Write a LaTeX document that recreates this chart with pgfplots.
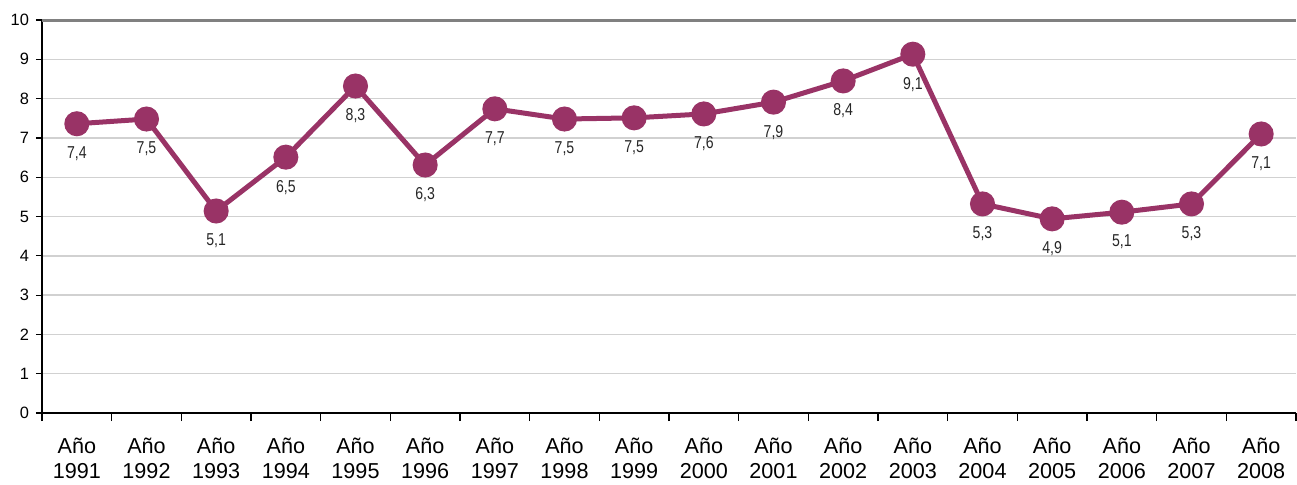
\documentclass[border=0pt]{standalone}
\usepackage{pgfplots}
\pgfplotsset{compat=1.18}
\usepackage{fontspec}
\setmainfont{Liberation Sans}
\newfontfamily\narrow[FakeStretch=0.82]{Liberation Sans}
\definecolor{linec}{HTML}{993366}
\begin{document}
\begin{tikzpicture}
\begin{axis}[
  scale only axis, width=627pt, height=196.5pt,
  xmin=-0.5, xmax=17.5, ymin=0, ymax=10,
  axis x line*=bottom, axis y line*=left,
  axis line style={-, black, line width=0.9pt},
  ytick={0,...,10},
  xtick={0,...,17},
  xticklabels={Año\\1991,Año\\1992,Año\\1993,Año\\1994,Año\\1995,Año\\1996,Año\\1997,Año\\1998,Año\\1999,Año\\2000,Año\\2001,Año\\2002,Año\\2003,Año\\2004,Año\\2005,Año\\2006,Año\\2007,Año\\2008},
  minor xtick={-0.5,0.5,...,17.5},
  every major x tick/.append style={draw=none},
  tick align=outside, major tick length=3pt, minor tick length=4pt,
  tick style={black, line width=0.6pt},
  xticklabel style={align=center, font=\fontsize{10.8}{12.5}\selectfont, yshift=-6pt},
  yticklabel style={font=\fontsize{8.2}{9}\selectfont},
  /pgf/number format/assume math mode=true,
  ymajorgrids, grid style={draw=black!18, line width=0.7pt},
  clip=false,
  point meta=explicit symbolic,
  nodes near coords,
  every node near coord/.style={anchor=center, yshift=-15pt, font=\narrow\fontsize{8.6}{9}\selectfont, text=black!85},
]
\draw[draw=black!50, line width=1.5pt] (rel axis cs:0,1) -- (rel axis cs:1,1);
\addplot[color=linec, line width=2.5pt, mark=*, mark size=5pt, mark options={fill=linec, draw=linec}] table[meta=label] {
x y label
0 7.36 7,4
1 7.48 7,5
2 5.14 5,1
3 6.51 6,5
4 8.32 8,3
5 6.31 6,3
6 7.74 7,7
7 7.48 7,5
8 7.51 7,5
9 7.61 7,6
10 7.91 7,9
11 8.45 8,4
12 9.13 9,1
13 5.32 5,3
14 4.94 4,9
15 5.11 5,1
16 5.32 5,3
17 7.10 7,1
};
\end{axis}
\pgfresetboundingbox
\path ([shift={(-21pt,-35.5pt)}]current axis.south west) rectangle ([shift={(0.5pt,10pt)}]current axis.north east);
\end{tikzpicture}
\end{document}
